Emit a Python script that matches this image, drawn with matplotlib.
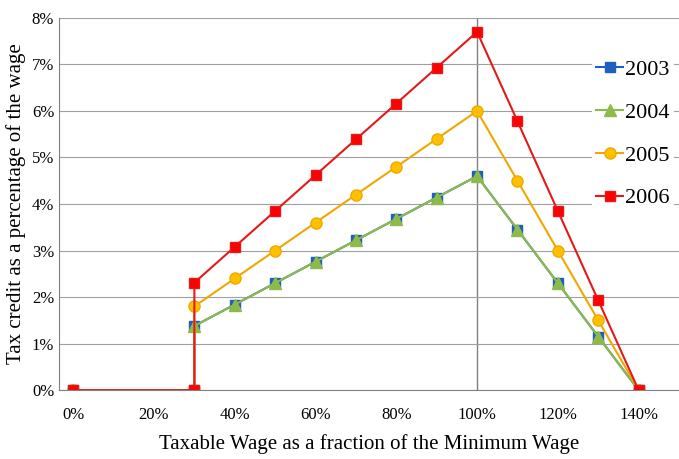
import numpy as np
import matplotlib
matplotlib.use('agg')
from matplotlib import pyplot as plt
from matplotlib.ticker import PercentFormatter

plt.rcParams['font.family'] = 'Liberation Serif'

wage = [0, 30, 30, 40, 50, 60, 70, 80, 90, 100, 110, 120, 130, 140]
credit_2003 = [0, 0, 1.38, 1.84, 2.30, 2.76, 3.22, 3.68, 4.14, 4.60, 3.45, 2.30, 1.15, 0]
credit_2004 = [0, 0, 1.38, 1.84, 2.30, 2.76, 3.22, 3.68, 4.14, 4.60, 3.45, 2.30, 1.15, 0]
credit_2005 = [0, 0, 1.80, 2.40, 3.00, 3.60, 4.20, 4.80, 5.40, 6.00, 4.50, 3.00, 1.50, 0]
credit_2006 = [0, 0, 2.31, 3.08, 3.85, 4.62, 5.39, 6.16, 6.93, 7.70, 5.78, 3.85, 1.93, 0]

fig, ax = plt.subplots(figsize=(6.79, 4.59), dpi=100)
fig.subplots_adjust(left=0.087, right=1.0, top=0.961, bottom=0.15)

ax.plot(wage, credit_2003, color='#1f5fbf', marker='s', markersize=7, lw=1.5, label='2003')
ax.plot(wage, credit_2004, color='#8dbb4a', marker='^', markersize=8, lw=1.5, label='2004')
ax.plot(wage, credit_2005, color='#f0a800', marker='o', markersize=8, lw=1.5,
        markerfacecolor='#ffc000', label='2005')
ax.plot(wage, credit_2006, color='#e41a1a', marker='s', markersize=7, lw=1.5,
        markerfacecolor='#ff0000', label='2006')

ax.axvline(100, color='#808080', lw=1, zorder=0)
ax.set_xlim(-3.5, 150)
ax.set_ylim(0, 8)
ax.set_xticks(np.arange(0, 150, 20))
ax.set_yticks(np.arange(0, 9, 1))
ax.xaxis.set_major_formatter(PercentFormatter(decimals=0))
ax.yaxis.set_major_formatter(PercentFormatter(decimals=0))
ax.yaxis.grid(True, color='#a0a0a0', lw=0.8)
ax.set_axisbelow(True)
ax.tick_params(labelsize=12, length=0)
ax.tick_params(axis='x', pad=12)
for s in ['top', 'right']:
    ax.spines[s].set_visible(False)
ax.spines['left'].set_color('#808080')
ax.spines['bottom'].set_color('#808080')
ax.set_xlabel('Taxable Wage as a fraction of the Minimum Wage', fontsize=15, labelpad=8)
ax.set_ylabel('Tax credit as a percentage of the wage', fontsize=15)

ax.legend(loc='upper right', bbox_to_anchor=(1.01, 0.93), frameon=True, facecolor='white',
          edgecolor='none', framealpha=1, fontsize=16, handlelength=1.2,
          labelspacing=1.0, handletextpad=0.1, borderpad=0.2)

plt.savefig('out.png')
